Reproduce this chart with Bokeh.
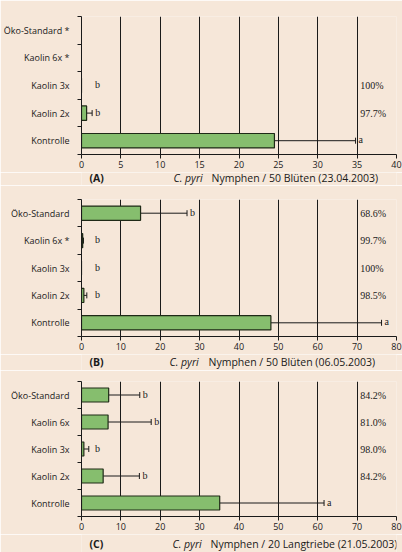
import numpy as np
from bokeh.plotting import figure
from bokeh.models import (ColumnDataSource, Range1d, FixedTicker, Whisker, TeeHead,
                          LabelSet, Label)
from bokeh.layouts import column
from bokeh.embed import file_html
from bokeh.resources import INLINE

# ---------------- data (bottom -> top) ----------------
cats_a = ["Kontrolle", "Kaolin 2x", "Kaolin 3x", "Kaolin 6x *", "Öko-Standard *"]
mean_a = [24.5, 0.65, 0.0, np.nan, np.nan]
upper_a = [34.8, 1.35, 0.0, np.nan, np.nan]
letter_a = ["a", "b", "b", "", ""]
pct_a = ["", "97.7%", "100%", "", ""]
ticks_a = [0, 5, 10, 15, 20, 25, 30, 35, 40]
title_a = "Nymphen / 50 Blüten (23.04.2003)"

cats_b = ["Kontrolle", "Kaolin 2x", "Kaolin 3x", "Kaolin 6x *", "Öko-Standard"]
mean_b = [48.1, 0.6, 0.0, 0.3, 15.0]
upper_b = [76.2, 1.35, 0.0, 0.5, 26.8]
letter_b = ["a", "b", "b", "b", "b"]
pct_b = ["", "98.5%", "100%", "99.7%", "68.6%"]
ticks_b = [0, 10, 20, 30, 40, 50, 60, 70, 80]
title_b = "Nymphen / 50 Blüten (06.05.2003)"

cats_c = ["Kontrolle", "Kaolin 2x", "Kaolin 3x", "Kaolin 6x", "Öko-Standard"]
mean_c = [35.1, 5.5, 0.6, 6.75, 6.9]
upper_c = [61.6, 14.7, 1.85, 17.7, 14.8]
letter_c = ["a", "b", "b", "b", "b"]
pct_c = ["", "84.2%", "98.0%", "81.0%", "84.2%"]
ticks_c = [0, 10, 20, 30, 40, 50, 60, 70, 80]
title_c = "Nymphen / 20 Langtriebe (21.05.2003)"

species = "C. pyri"

BG = "#F6E7D9"
BAR = "#86BE6E"
INK = "#1a1a1a"
FONT = "Open Sans"
FS = "9px"
FS_NOTE = "10px"
FS_CAP = "10.5px"


def panel(cats, means, uppers, letters, pcts, ticks, height, top, bottom):
    n = len(cats)
    xmax = ticks[-1]
    p = figure(width=402, height=height, output_backend="svg", toolbar_location=None,
               x_range=Range1d(0, xmax), y_range=Range1d(-0.5, n - 0.5),
               min_border_left=80, min_border_right=6,
               min_border_top=top, min_border_bottom=bottom)
    p.background_fill_color = BG
    p.border_fill_color = BG
    p.outline_line_color = None

    ys = np.arange(n, dtype=float)
    m = np.array(means, dtype=float)
    u = np.array(uppers, dtype=float)
    ok = np.isfinite(m)

    bar_src = ColumnDataSource(dict(y=ys[ok], right=m[ok]))
    p.hbar(y="y", left=0, right="right", height=0.52, source=bar_src,
           fill_color=BAR, line_color="#1f2a17", line_width=1.2)

    wk = ok & (u > m)
    w_src = ColumnDataSource(dict(y=ys[wk], lo=m[wk], hi=u[wk]))
    p.add_layout(Whisker(source=w_src, base="y", lower="lo", upper="hi",
                         dimension="width", line_color=INK, line_width=1,
                         lower_head=None,
                         upper_head=TeeHead(size=6, line_color=INK, line_width=1)))

    lmin = xmax * 0.033
    lx = np.where(ok, np.maximum(np.nan_to_num(u), lmin), 0)
    l_src = ColumnDataSource(dict(x=lx[ok], y=ys[ok], t=[letters[i] for i in range(n) if ok[i]]))
    p.add_layout(LabelSet(x="x", y="y", text="t", source=l_src, x_offset=3, y_offset=1,
                          text_baseline="middle", text_font=FONT, text_font_size=FS_NOTE,
                          text_color=INK))

    pk = [i for i in range(n) if pcts[i]]
    p_src = ColumnDataSource(dict(x=[ticks[-2]] * len(pk), y=ys[pk], t=[pcts[i] for i in pk]))
    p.add_layout(LabelSet(x="x", y="y", text="t", source=p_src, x_offset=3,
                          text_baseline="middle", text_font=FONT, text_font_size=FS_NOTE,
                          text_color=INK))

    xa = p.xaxis[0]
    xa.ticker = FixedTicker(ticks=ticks)
    xa.major_tick_in = 0
    xa.major_tick_out = 4
    xa.minor_tick_line_color = None
    xa.axis_line_color = INK
    xa.major_tick_line_color = INK
    xa.major_label_text_font = FONT
    xa.major_label_text_font_size = FS
    xa.major_label_text_color = INK
    xa.major_label_standoff = 2

    ya = p.yaxis[0]
    ya.ticker = FixedTicker(ticks=list(range(n)),
                            minor_ticks=[i - 0.5 for i in range(n + 1)])
    ya.major_label_overrides = {i: c for i, c in enumerate(cats)}
    ya.major_tick_line_color = None
    ya.minor_tick_in = 0
    ya.minor_tick_out = 4
    ya.minor_tick_line_color = INK
    ya.axis_line_color = INK
    ya.major_label_text_font = FONT
    ya.major_label_text_font_size = FS
    ya.major_label_text_color = INK
    ya.major_label_standoff = 6

    p.xgrid.ticker = FixedTicker(ticks=ticks)
    p.xgrid.grid_line_color = INK
    p.xgrid.grid_line_width = 1
    p.ygrid.grid_line_color = None
    return p


def caption(tag, title, height, ymid, x_species, x_title):
    c = figure(width=402, height=height, output_backend="svg", toolbar_location=None,
               x_axis_location=None, y_axis_location=None,
               x_range=Range1d(0, 402), y_range=Range1d(0, height),
               min_border_left=0, min_border_right=0, min_border_top=0, min_border_bottom=0)
    c.background_fill_color = BG
    c.border_fill_color = BG
    c.outline_line_color = None
    c.grid.grid_line_color = None
    for x, t, style in [(8, tag, "bold"), (x_species, species, "italic"), (x_title, title, "normal")]:
        c.add_layout(Label(x=x, y=ymid, x_units="screen", y_units="screen", text=t,
                           text_font=FONT, text_font_size=FS_CAP, text_font_style=style,
                           text_color=INK, text_baseline="middle"))
    return c


pa = panel(cats_a, mean_a, upper_a, letter_a, pct_a, ticks_a, 172, 16, 18)
ca = caption("(A)", title_a, 13, 8, 92, 130)
pb = panel(cats_b, mean_b, upper_b, letter_b, pct_b, ticks_b, 169, 14, 18)
cb = caption("(B)", title_b, 16, 9, 88, 127)
pc = panel(cats_c, mean_c, upper_c, letter_c, pct_c, ticks_c, 164, 11, 18)
cc = caption("(C)", title_c, 18, 9, 91, 129)

layout = column(pa, ca, pb, cb, pc, cc, spacing=0)
open("out.html", "w").write(file_html(layout, INLINE))
